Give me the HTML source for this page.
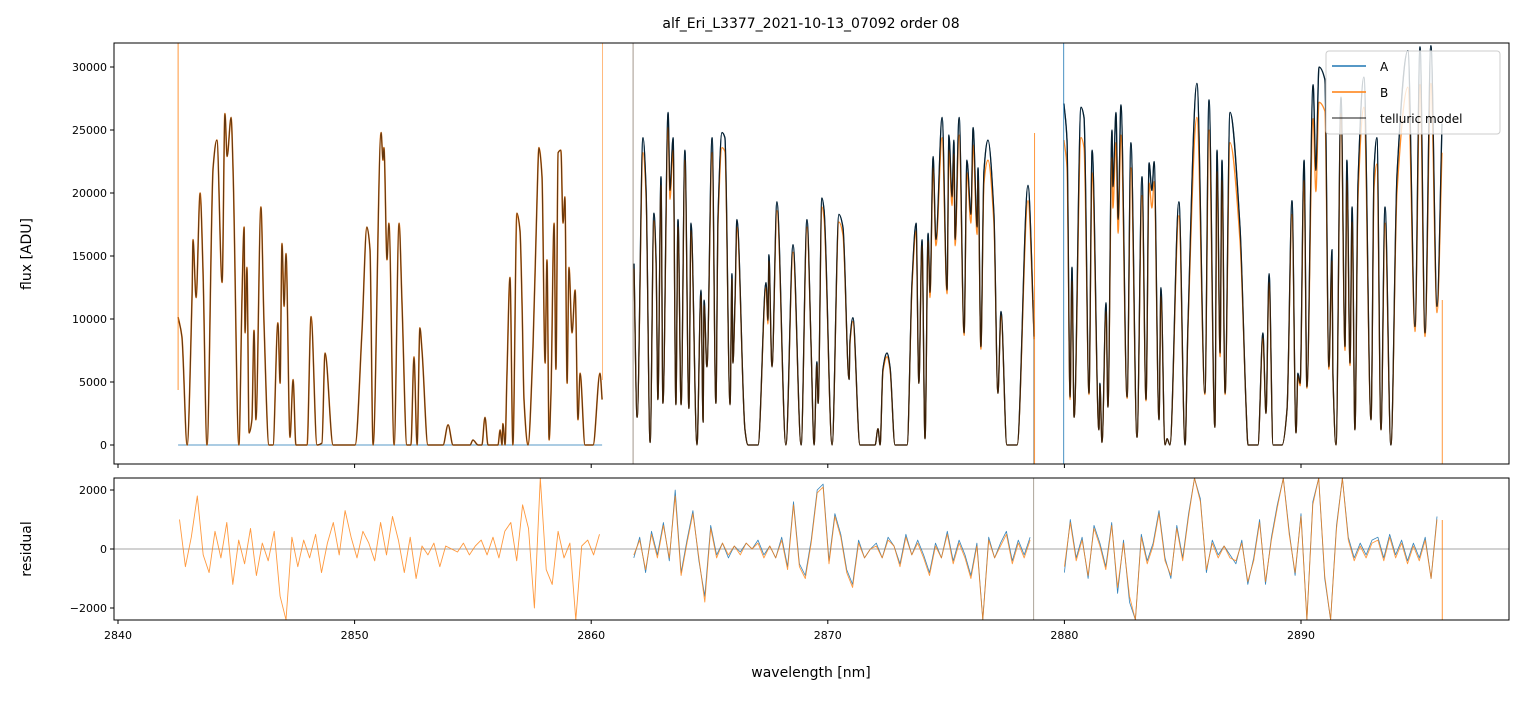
<!DOCTYPE html>
<html><head><meta charset="utf-8">
<style>
body{margin:0;background:#fff;}
svg text{font-family:"DejaVu Sans","Liberation Sans",sans-serif;fill:#000;}
</style></head>
<body>
<svg id="chart" width="1523" height="696" xmlns="http://www.w3.org/2000/svg">
<defs>
<clipPath id="clipTop"><rect x="114" y="43" width="1395" height="421"/></clipPath>
<clipPath id="clipBot"><rect x="114" y="478" width="1395" height="142"/></clipPath>
</defs>
<text x="811" y="28" font-size="14" text-anchor="middle">alf_Eri_L3377_2021-10-13_07092  order 08</text>
<g id="gTop" clip-path="url(#clipTop)"></g>
<g id="gBot" clip-path="url(#clipBot)"></g>
<g id="gAxes"></g>
<text transform="translate(31,254) rotate(-90)" font-size="14" text-anchor="middle">flux [ADU]</text>
<text transform="translate(31,549) rotate(-90)" font-size="14" text-anchor="middle">residual</text>
<text x="811" y="677" font-size="14" text-anchor="middle">wavelength [nm]</text>
<g>
<rect x="1326" y="51" width="174" height="83" rx="3" fill="#fff" fill-opacity="0.8" stroke="#ccc"/>
<line x1="1332" y1="66" x2="1366" y2="66" stroke="#1f77b4" stroke-width="1.5"/>
<text x="1380" y="71" font-size="12">A</text>
<line x1="1332" y1="92" x2="1366" y2="92" stroke="#ff7f0e" stroke-width="1.5"/>
<text x="1380" y="97" font-size="12">B</text>
<line x1="1332" y1="118" x2="1366" y2="118" stroke="#000" stroke-opacity="0.6" stroke-width="1.5"/>
<text x="1380" y="123" font-size="12">telluric model</text>
</g>
</svg>
<script>
const xTicks=[2840,2850,2860,2870,2880,2890];
const yTicksTop=[0,5000,10000,15000,20000,25000,30000];
const yTicksBot=[-2000,0,2000];

const wl1=[2842.54,2842.70,2842.92,2843.13,2843.17,2843.30,2843.47,2843.59,2843.76,2844.02,2844.18,2844.40,2844.52,2844.61,2844.78,2844.86,2845.11,2845.24,2845.33,2845.37,2845.45,2845.54,2845.66,2845.75,2845.83,2846.04,2846.17,2846.38,2846.55,2846.76,2846.85,2846.93,2847.02,2847.10,2847.27,2847.40,2847.52,2847.99,2848.16,2848.41,2848.62,2848.75,2849.09,2850.02,2850.31,2850.52,2850.65,2850.78,2851.12,2851.20,2851.24,2851.37,2851.45,2851.67,2851.88,2852.00,2852.21,2852.38,2852.51,2852.64,2852.76,2852.85,2853.10,2853.74,2853.95,2854.16,2854.88,2855.00,2855.22,2855.38,2855.51,2855.64,2856.06,2856.15,2856.23,2856.27,2856.36,2856.44,2856.57,2856.69,2856.86,2856.99,2857.08,2857.16,2857.33,2857.54,2857.71,2857.79,2857.92,2858.05,2858.13,2858.22,2858.30,2858.43,2858.51,2858.60,2858.72,2858.81,2858.89,2858.98,2859.06,2859.19,2859.32,2859.44,2859.53,2859.74,2860.08,2860.37,2860.46];
const fB1=[10150,8600,0,12000,16300,11700,20000,14100,0,22000,24200,12900,26300,22900,26000,22000,0,11700,17300,8900,14100,950,2000,9100,2000,18900,9700,0,0,9700,4900,16000,11000,15200,600,5200,0,0,10200,0,150,7300,0,0,8900,17300,15500,0,24800,22600,23600,14700,17600,0,17600,11500,0,0,7000,0,9300,7500,0,0,1600,0,0,400,0,0,2200,0,0,1200,0,1700,0,5700,13300,0,18400,17000,11000,3600,0,7800,19400,23600,21300,6500,14700,400,4100,17600,6000,23200,23400,17600,19700,4900,14100,8900,12300,2000,5700,0,0,5700,3600];
const wlA1=[2842.54,2860.46];
const fA1=[0,0];

const wl2=[2861.81,2861.94,2862.19,2862.32,2862.49,2862.65,2862.74,2862.82,2862.95,2863.03,2863.25,2863.33,2863.46,2863.58,2863.67,2863.80,2863.96,2864.13,2864.22,2864.47,2864.64,2864.73,2864.77,2864.89,2865.11,2865.27,2865.36,2865.53,2865.65,2865.87,2865.95,2865.99,2866.08,2866.16,2866.50,2866.63,2867.05,2867.39,2867.47,2867.51,2867.64,2867.85,2868.23,2868.53,2868.87,2869.12,2869.29,2869.42,2869.54,2869.59,2869.75,2869.84,2870.18,2870.47,2870.64,2870.90,2870.94,2871.06,2871.36,2872.00,2872.12,2872.21,2872.33,2872.50,2872.63,2872.84,2873.35,2873.56,2873.73,2873.85,2873.98,2874.11,2874.24,2874.32,2874.45,2874.57,2874.83,2875.04,2875.12,2875.25,2875.33,2875.38,2875.55,2875.76,2875.88,2876.05,2876.14,2876.31,2876.35,2876.47,2876.60,2876.77,2877.02,2877.19,2877.32,2877.57,2878.00,2878.46,2878.72];
const fA2=[14400,2200,24400,20200,200,18400,14900,3600,21300,3300,26400,20200,24400,3200,17900,3200,23400,2900,17600,0,12300,1800,11500,6200,24400,3300,18100,24800,24400,3200,13600,6500,11700,17900,1200,0,0,12900,9900,15100,6200,19300,0,15900,0,17900,8100,0,6600,3300,19600,18700,0,18300,17300,5200,8300,10100,0,0,1300,0,6000,7300,6200,0,0,12900,17600,4900,16300,500,16800,12100,22900,16300,26000,12300,24600,19700,24200,16300,26000,8900,22600,18300,25200,17300,22000,7800,21800,24200,18400,4100,10600,0,0,20600,8600];
const fB2=[14000,2200,23200,19600,200,17800,14400,3600,20600,3300,25200,19500,23400,3200,17300,3200,22600,2900,17000,0,11900,1800,11100,6200,23200,3300,17500,23600,23300,3200,13200,6500,11300,17300,1200,0,0,12500,9600,14600,6200,18600,0,15300,0,17300,8100,0,6400,3300,18900,18000,0,17700,16700,5200,8100,9800,0,0,1300,0,5800,7000,6000,0,0,12500,17000,4900,15800,500,16200,11700,22000,15800,24400,12000,23400,19000,23100,15800,24600,8700,21600,17600,23800,16700,21000,7600,20800,22600,17600,4100,10300,0,0,19400,8400];

const wl3=[2879.98,2880.11,2880.24,2880.32,2880.41,2880.70,2880.83,2881.04,2881.17,2881.46,2881.50,2881.59,2881.76,2881.84,2882.01,2882.05,2882.18,2882.27,2882.39,2882.65,2882.81,2883.07,2883.28,2883.45,2883.58,2883.70,2883.79,2884.00,2884.08,2884.25,2884.34,2884.46,2884.84,2885.10,2885.22,2885.60,2885.94,2886.11,2886.36,2886.45,2886.58,2886.66,2886.79,2887.00,2887.42,2887.68,2887.76,2888.18,2888.39,2888.52,2888.65,2888.82,2889.20,2889.41,2889.62,2889.79,2889.87,2889.96,2890.13,2890.25,2890.51,2890.63,2890.76,2891.01,2891.18,2891.31,2891.35,2891.48,2891.69,2891.86,2891.94,2892.07,2892.16,2892.28,2892.41,2892.66,2892.96,2893.09,2893.21,2893.38,2893.55,2893.80,2894.06,2894.52,2894.82,2895.03,2895.24,2895.49,2895.75,2895.96];
const fA3=[27100,24200,3800,14100,2200,26800,26000,4100,23400,1200,4900,200,11300,3000,25000,20500,26400,17900,27000,3800,24000,600,21300,3600,22400,20200,22500,2000,12500,0,500,0,19300,0,9400,28700,4100,27400,1400,23400,7300,22600,4100,26400,17300,3000,0,0,8900,2500,13600,0,0,2800,19400,950,5700,4900,22600,4600,28600,21800,30000,29000,6200,15500,5700,0,27600,7800,22600,6500,18900,1200,20800,29200,2000,22000,24400,1200,18900,0,21600,31300,9400,31600,8900,31700,11000,25500];
const fB3=[24200,22000,3600,13000,2200,24400,23600,4000,21600,1200,4700,200,10600,3000,22800,18800,24000,16800,24600,3700,22000,600,19800,3500,20800,18800,20900,2000,11800,0,500,0,18200,0,9000,26000,4000,25000,1400,21700,7000,21000,4000,24000,16200,3000,0,0,8500,2500,12900,0,0,2800,18300,950,5500,4700,21000,4500,25900,20100,27200,26500,6000,14600,5500,0,26300,7500,21000,6300,17700,1200,19600,26800,2000,20500,22300,1200,17600,0,20200,28400,9000,28600,8600,28700,10500,23200];

const rStep=0.25;
const rStart1=2842.6;
const resB1=[1000,-600,400,1800,-200,-800,600,-300,900,-1200,300,-500,700,-900,200,-400,600,-1600,-2400,400,-600,300,-300,500,-800,200,900,-200,1300,400,-300,600,200,-400,900,-200,1100,300,-800,400,-1000,100,-200,200,-600,100,0,-100,200,-200,100,300,-200,400,-300,600,900,-400,1500,700,-2000,2400,-700,-1200,600,-300,200,-2400,100,300,-200,500];
const rStart2=2861.8;
const resA2=[-300,400,-800,600,-200,900,-400,2000,-800,300,1300,-400,-1600,800,-200,200,-300,100,-100,200,0,300,-200,100,-300,400,-600,1600,-500,-900,300,2000,2200,-400,1200,500,-700,-1200,300,-300,0,200,-300,400,100,-500,500,-200,300,-200,-800,200,-300,600,-400,300,-200,-900,200,-2400,400,-300,200,600,-400,300,-200,400];
const resB2=[-200,300,-700,500,-300,800,-300,1800,-900,200,1200,-300,-1800,700,-300,200,-200,100,-200,200,0,200,-300,100,-300,300,-700,1500,-600,-1000,200,1900,2100,-500,1100,400,-800,-1300,200,-300,0,100,-300,300,100,-600,400,-200,200,-300,-900,100,-300,500,-500,200,-300,-1000,100,-2400,300,-300,100,500,-500,200,-300,300];
const rStart3=2880.0;
const resA3=[-800,1000,-300,400,-1000,800,200,-600,900,-1500,300,-1800,-2400,500,-400,200,1300,-300,-1000,800,-300,1200,2400,1700,-800,300,-200,100,-200,-500,300,-1200,-300,1000,-1200,400,1500,2400,600,-900,1200,-2400,1600,2400,-1000,-2400,800,2400,400,-300,200,-200,300,400,-300,500,-200,300,-400,200,-300,400,-1000,1100];
const resB3=[-600,900,-400,300,-900,700,100,-700,800,-1300,200,-1600,-2400,400,-500,100,1200,-400,-900,700,-400,1100,2400,1600,-700,200,-300,100,-300,-400,200,-1100,-400,900,-1100,300,1400,2400,500,-800,1100,-2400,1500,2400,-900,-2400,700,2400,300,-400,100,-300,200,300,-400,400,-300,200,-500,100,-400,300,-1000,1000];

const SVGNS="http://www.w3.org/2000/svg";
function xs(w){return 118+(w-2840)*23.66;}
function yt(f){return 445-f*0.0126;}
function yb(r){return 549-r*0.0295;}
function el(tag,attrs,parent){const e=document.createElementNS(SVGNS,tag);for(const k in attrs)e.setAttribute(k,attrs[k]);parent.appendChild(e);return e;}
const gTop=document.getElementById('gTop'),gBot=document.getElementById('gBot'),gAx=document.getElementById('gAxes');

// monotone cubic path (Fritsch-Carlson)
function monoPath(px,py){
  const n=px.length;
  if(n<3){let d='';for(let i=0;i<n;i++)d+=(i?'L':'M')+px[i].toFixed(1)+','+py[i].toFixed(1);return d;}
  const dx=[],s=[];
  for(let i=0;i<n-1;i++){dx.push(px[i+1]-px[i]||0.01);s.push((py[i+1]-py[i])/(dx[i]));}
  const m=[s[0]];
  for(let i=1;i<n-1;i++){ if(s[i-1]*s[i]<=0)m.push(0); else m.push(2/(1/s[i-1]+1/s[i])); }
  m.push(s[n-2]);
  let d='M'+px[0].toFixed(1)+','+py[0].toFixed(1);
  for(let i=0;i<n-1;i++){
    const h=dx[i]/3;
    d+='C'+(px[i]+h).toFixed(1)+','+(py[i]+m[i]*h).toFixed(1)+' '+(px[i+1]-h).toFixed(1)+','+(py[i+1]-m[i+1]*h).toFixed(1)+' '+px[i+1].toFixed(1)+','+py[i+1].toFixed(1);
  }
  return d;
}
function line(wls,vals,yf,color,op,w,parent,name,smooth){
  const px=wls.map(xs),py=vals.map(yf);
  let d;
  if(smooth) d=monoPath(px,py);
  else {d='';for(let i=0;i<vals.length;i++){d+=(i?'L':'M')+px[i].toFixed(1)+','+py[i].toFixed(1);}}
  const p=el('path',{d:d,fill:'none',stroke:color,'stroke-opacity':op,'stroke-width':w,'stroke-linejoin':'round'},parent);
  
  
}
function resLine(start,vals,color,op,w,name){
  const wls=vals.map((v,i)=>start+i*rStep);
  line(wls,vals,yb,color,op,w,gBot,name,false);
}
function vline(w,y1,y2,color,op,parent,name){
  const l=el('line',{x1:xs(w),x2:xs(w),y1:y1,y2:y2,stroke:color,'stroke-opacity':op,'stroke-width':0.9},parent);
  
  
}

// top panel
line(wlA1,fA1,yt,'#1f77b4',1,0.8,gTop,'series-a-seg1',false);
line(wl2,fA2,yt,'#1f77b4',1,1.3,gTop,'series-a-seg2',true);
line(wl3,fA3,yt,'#1f77b4',1,1.3,gTop,'series-a-seg3',true);
line(wl1,fB1,yt,'#ff7f0e',0.9,1.6,gTop,'series-b-seg1',true);
line(wl2,fB2,yt,'#ff7f0e',0.9,1.3,gTop,'series-b-seg2',true);
line(wl3,fB3,yt,'#ff7f0e',0.9,1.3,gTop,'series-b-seg3',true);
line(wl1,fB1,yt,'#000',0.6,1.2,gTop,'telluric-model-seg1',true);
line(wl2,fA2,yt,'#000',0.75,1.3,gTop,'telluric-model-seg2',true);
line(wl3,fA3,yt,'#000',0.75,1.3,gTop,'telluric-model-seg3',true);
vline(2842.54,43,390,'#ff7f0e',0.9,gTop,'edge-spike-b-1');
vline(2860.48,43,380,'#ff7f0e',0.6,gTop,'edge-spike-b-2');
vline(2861.77,43,464,'#7f6f5f',0.8,gTop,'edge-spike-model-1');
vline(2878.74,133,464,'#ff7f0e',0.9,gTop,'edge-spike-b-3');
vline(2878.7,300,464,'#7f6f5f',0.7,gTop,'edge-spike-model-2');
vline(2879.97,43,464,'#1f77b4',0.9,gTop,'edge-spike-a-1');
vline(2895.97,300,464,'#ff7f0e',0.9,gTop,'edge-spike-b-4');

// bottom panel
el('line',{x1:114,x2:1509,y1:yb(0),y2:yb(0),stroke:'#000','stroke-width':0.5,'stroke-opacity':0.7},gBot);
resLine(rStart2,resA2,'#1f77b4',0.9,0.8,'residual-a-seg2');
resLine(rStart3,resA3,'#1f77b4',0.9,0.8,'residual-a-seg3');
resLine(rStart1,resB1,'#ff7f0e',0.8,0.9,'residual-b-seg1');
resLine(rStart2,resB2,'#ff7f0e',0.8,0.9,'residual-b-seg2');
resLine(rStart3,resB3,'#ff7f0e',0.8,0.9,'residual-b-seg3');
vline(2878.7,478,620,'#7f6f5f',0.7,gBot,'residual-edge-model');
vline(2895.97,520,620,'#ff7f0e',0.9,gBot,'residual-edge-b');

// axes frames
el('rect',{x:114,y:43,width:1395,height:421,fill:'none',stroke:'#000','stroke-width':1},gAx);
el('rect',{x:114,y:478,width:1395,height:142,fill:'none',stroke:'#000','stroke-width':1},gAx);
xTicks.forEach(t=>{
  el('line',{x1:xs(t),x2:xs(t),y1:464,y2:468,stroke:'#000'},gAx);
  el('line',{x1:xs(t),x2:xs(t),y1:620,y2:624,stroke:'#000'},gAx);
  const tx=el('text',{x:xs(t),y:639,'font-size':11,'text-anchor':'middle'},gAx);
  tx.textContent=t;
  
  
});
yTicksTop.forEach(t=>{
  el('line',{x1:110,x2:114,y1:yt(t),y2:yt(t),stroke:'#000'},gAx);
  const tx=el('text',{x:107,y:yt(t)+4,'font-size':11,'text-anchor':'end'},gAx);
  tx.textContent=t;
  
  
});
yTicksBot.forEach(t=>{
  el('line',{x1:110,x2:114,y1:yb(t),y2:yb(t),stroke:'#000'},gAx);
  const tx=el('text',{x:107,y:yb(t)+4,'font-size':11,'text-anchor':'end'},gAx);
  tx.textContent=(t<0?'\u2212'+Math.abs(t):t);
  
  
});
</script>
</body></html>
